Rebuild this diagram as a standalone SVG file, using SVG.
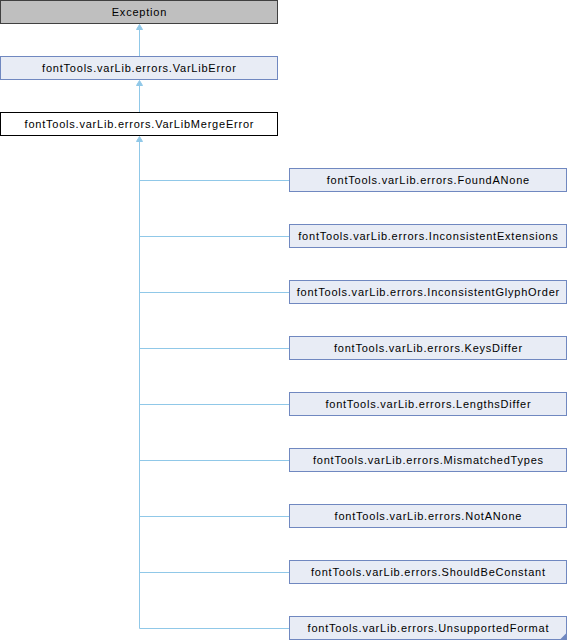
<svg xmlns="http://www.w3.org/2000/svg" width="568" height="640" viewBox="0 0 568 640">
<style>
text{font-family:"Liberation Sans",Arial,sans-serif;font-size:11px;letter-spacing:0.78px;fill:#000;text-anchor:middle}
.n{fill:#e8ecf5;stroke:#7088c0;stroke-width:1}
.e{stroke:#90c8e8;stroke-width:1;fill:none}
.a{fill:#90c8e8;stroke:#90c8e8;stroke-width:1}
</style>
<rect width="568" height="640" fill="#fff"/>
<g id="connectors">
<path class="e" d="M139.5,30V56 M139.5,86V112 M139.5,142V628.5H289"/>
<path class="e" d="M139.5,180.5H289 M139.5,236.5H289 M139.5,292.5H289 M139.5,348.5H289 M139.5,404.5H289 M139.5,460.5H289 M139.5,516.5H289 M139.5,572.5H289"/>
<polygon class="a" points="139.5,24.5 136.5,29.5 142.5,29.5"/>
<polygon class="a" points="139.5,80.5 136.5,85.5 142.5,85.5"/>
<polygon class="a" points="139.5,136.5 136.5,141.5 142.5,141.5"/>
</g>
<g id="Exception"><rect x="0.5" y="0.5" width="277" height="23" fill="#bfbfbf" stroke="#404040"/><text x="139.4" y="15.5">Exception</text></g>
<g id="VarLibError"><rect class="n" x="0.5" y="56.5" width="277" height="23"/><text x="139.4" y="71.5">fontTools.varLib.errors.VarLibError</text></g>
<g id="VarLibMergeError"><rect x="0.5" y="112.5" width="277" height="23" fill="#fff" stroke="#000"/><text x="139.4" y="127.5">fontTools.varLib.errors.VarLibMergeError</text></g>
<g id="FoundANone"><rect class="n" x="289.5" y="168.5" width="277" height="23"/><text x="428.4" y="183.5">fontTools.varLib.errors.FoundANone</text></g>
<g id="InconsistentExtensions"><rect class="n" x="289.5" y="224.5" width="277" height="23"/><text x="428.4" y="239.5">fontTools.varLib.errors.InconsistentExtensions</text></g>
<g id="InconsistentGlyphOrder"><rect class="n" x="289.5" y="280.5" width="277" height="23"/><text x="428.4" y="295.5">fontTools.varLib.errors.InconsistentGlyphOrder</text></g>
<g id="KeysDiffer"><rect class="n" x="289.5" y="336.5" width="277" height="23"/><text x="428.4" y="351.5">fontTools.varLib.errors.KeysDiffer</text></g>
<g id="LengthsDiffer"><rect class="n" x="289.5" y="392.5" width="277" height="23"/><text x="428.4" y="407.5">fontTools.varLib.errors.LengthsDiffer</text></g>
<g id="MismatchedTypes"><rect class="n" x="289.5" y="448.5" width="277" height="23"/><text x="428.4" y="463.5">fontTools.varLib.errors.MismatchedTypes</text></g>
<g id="NotANone"><rect class="n" x="289.5" y="504.5" width="277" height="23"/><text x="428.4" y="519.5">fontTools.varLib.errors.NotANone</text></g>
<g id="ShouldBeConstant"><rect class="n" x="289.5" y="560.5" width="277" height="23"/><text x="428.4" y="575.5">fontTools.varLib.errors.ShouldBeConstant</text></g>
<g id="UnsupportedFormat"><rect class="n" x="289.5" y="616.5" width="277" height="23"/><polygon points="566.5,633 566.5,639.5 560,639.5" fill="#7088c0"/><text x="428.4" y="631.5">fontTools.varLib.errors.UnsupportedFormat</text></g>
</svg>
